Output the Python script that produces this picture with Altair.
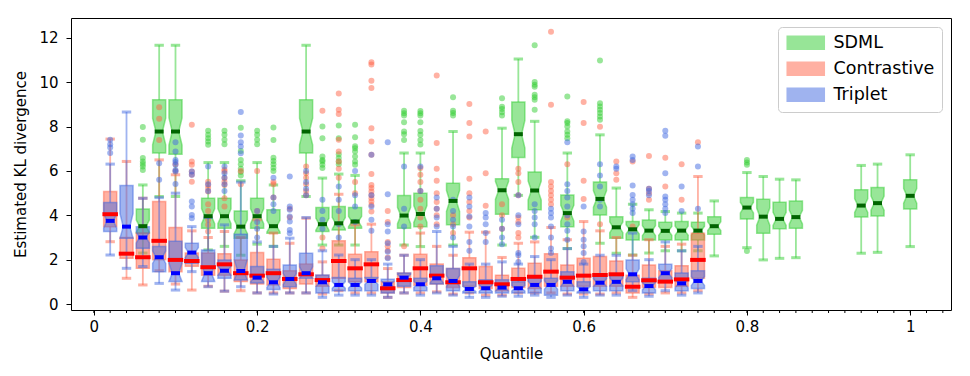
import altair as alt
import pandas as pd

# ---------------- data ----------------
STEP = 0.02  # quantile spacing of the box positions (position index k -> k*STEP)

series_names = ["SDML", "Contrastive", "Triplet"]
box_colors = ["#32CD32", "#FF6347", "#4169E1"]
median_colors = ["#006400", "#FF0000", "#0000FF"]

sdml_k = [3, 4, 5, 7, 8, 9, 10, 11, 13, 14, 15, 16, 19, 20, 22, 25, 26, 27, 29, 31,
          32, 33, 34, 35, 36, 37, 38, 40, 41, 42, 43, 47, 48, 50]
sdml_lo = [2.3, 4.85, 4.85, 2.44, 2.6, 2.2, 2.7, 2.6, 4.85, 2.66, 2.66, 2.66, 2.66, 2.59, 2.66, 2.66, 4.9, 3.01, 2.5, 2.74,
           2.29, 2.21, 2.3, 2.4, 2.4, 2.4, 2.17, 2.54, 1.99, 2.06, 2.09, 2.29, 2.33, 2.59]
sdml_q1 = [3.19, 6.81, 6.76, 3.42, 3.42, 2.97, 3.42, 3.19, 6.81, 3.27, 3.34, 3.42, 3.42, 3.49, 3.57, 4.05, 6.61, 4.25, 3.49, 4.02,
           2.97, 2.89, 2.89, 2.89, 2.89, 2.89, 3.15, 3.84, 3.19, 3.39, 3.42, 3.92, 3.97, 4.28]
sdml_med = [3.51, 7.78, 7.78, 3.96, 3.96, 3.49, 3.96, 3.51, 7.78, 3.6, 3.64, 3.72, 3.99, 4.06, 4.65, 5.13, 7.66, 5.12, 4.1, 4.74,
            3.46, 3.37, 3.31, 3.3, 3.31, 3.31, 3.51, 4.35, 3.94, 3.84, 3.92, 4.44, 4.55, 4.88]
sdml_q3 = [4.29, 9.21, 9.21, 4.77, 4.77, 4.2, 4.77, 4.25, 9.21, 4.35, 4.4, 4.35, 4.89, 5.0, 5.45, 5.65, 9.11, 5.95, 4.92, 5.5,
           3.94, 3.72, 3.79, 3.69, 3.72, 3.69, 3.94, 4.8, 4.73, 4.59, 4.65, 5.15, 5.25, 5.6]
sdml_hi = [5.37, 11.67, 11.67, 6.38, 6.38, 5.56, 6.38, 5.37, 11.67, 5.68, 5.86, 5.8, 6.81, 6.81, 7.78, 7.93, 11.05, 8.24, 6.81, 7.63,
           5.23, 4.5, 4.25, 4.17, 4.1, 4.1, 4.65, 5.93, 5.75, 5.63, 5.6, 6.25, 6.31, 6.73]
sdml_out = {3: [7.98, 7.41, 6.58, 6.43, 6.31, 6.2, 6.05], 7: [7.81, 7.63, 7.48, 7.33, 7.18],
            8: [7.81, 7.63, 7.41, 7.21], 9: [7.95, 6.9, 6.5, 6.3, 6.1, 5.95, 5.8],
            10: [7.81, 7.63, 7.41, 7.21], 11: [7.96, 7.4, 6.6, 6.45, 6.3, 6.15, 6.0],
            14: [8.01, 7.48, 6.65, 6.5, 6.43, 6.28, 6.13], 15: [8.05, 7.48, 6.76, 6.58, 6.43, 6.3],
            16: [8.08, 7.52, 7.11, 7.03, 6.88, 6.65, 6.43, 6.28], 19: [8.72, 8.6, 8.5, 8.2, 7.78, 7.66, 7.4],
            20: [8.7, 8.6, 8.5, 8.2, 7.8, 7.63, 7.4, 7.2], 22: [9.32, 8.72, 8.61, 8.5],
            25: [9.28, 8.9, 8.8, 8.65, 8.5], 27: [11.67, 10.01, 9.89, 9.8, 9.44, 9.32, 9.21, 8.76],
            29: [9.36, 8.24, 8.16, 8.01, 7.78, 7.63, 7.48], 31: [10.98, 9.06, 8.91, 8.76, 8.61, 8.46, 8.31],
            40: [6.5, 6.38, 6.28, 2.39]}

contr_k = list(range(1, 38))
contr_lo = [2.81, 1.16, 0.86, 1.5, 0.9, 0.63, 0.8, 0.58, 0.6, 0.5, 0.5, 0.5, 0.5, 0.45, 0.6, 0.5, 0.5, 0.3, 0.5, 0.5,
            0.55, 0.45, 0.5, 0.4, 0.4, 0.5, 0.5, 0.5, 0.45, 0.45, 0.45, 0.5, 0.3, 0.45, 0.5, 0.5, 0.6]
contr_q1 = [3.49, 2.06, 1.61, 2.0, 1.46, 1.7, 1.3, 1.3, 1.01, 0.9, 0.86, 0.7, 0.9, 0.8, 1.16, 1.0, 1.0, 0.5, 0.75, 0.85,
            0.9, 0.75, 0.8, 0.7, 0.6, 0.75, 0.7, 0.8, 0.8, 0.8, 0.8, 0.8, 0.5, 0.75, 0.75, 0.8, 1.16]
contr_med = [4.05, 2.27, 2.11, 2.85, 1.99, 1.94, 1.66, 1.79, 1.39, 1.28, 1.39, 1.13, 1.34, 1.08, 1.94, 1.61, 1.79, 0.71, 1.08, 1.61,
             1.28, 0.98, 1.61, 0.98, 0.89, 1.13, 1.23, 1.46, 1.19, 1.28, 1.31, 1.34, 0.78, 1.07, 1.01, 1.11, 1.99]
contr_q3 = [5.07, 3.0, 3.2, 4.62, 3.45, 2.3, 2.3, 2.27, 1.99, 2.32, 2.02, 1.5, 1.8, 1.3, 2.85, 2.24, 2.36, 1.0, 1.4, 2.24,
            1.8, 1.6, 2.09, 1.69, 1.3, 1.61, 1.84, 2.27, 1.76, 2.06, 2.14, 1.94, 1.3, 1.76, 1.5, 1.73, 3.19]
contr_hi = [7.44, 6.43, 4.77, 6.5, 5.83, 3.3, 3.0, 3.27, 3.0, 3.8, 3.2, 2.74, 3.87, 1.9, 4.95, 3.57, 3.6, 1.6, 2.2, 3.2,
            2.6, 2.2, 3.24, 3.24, 2.1, 2.74, 2.8, 3.45, 2.9, 3.72, 3.3, 3.0, 2.2, 2.9, 2.6, 2.7, 5.75]
contr_out = {4: [8.87, 8.36, 7.4], 5: [6.3, 6.0], 6: [8.08, 6.43, 6.28, 5.98, 5.83, 5.52],
             7: [5.52, 5.37, 5.23, 5.07, 4.5, 4.2, 3.8, 3.57, 3.27], 8: [6.06, 5.98, 5.68, 5.52, 5.37, 4.77, 4.4],
             9: [6.0, 5.4], 10: [6.0, 4.2], 11: [5.5, 5.4, 4.8], 12: [4.3, 3.9], 13: [6.2, 5.9, 5.7, 5.4, 5.1, 4.9],
             14: [8.72, 3.0, 2.5], 15: [9.49, 8.76, 8.57, 7.41, 6.88, 6.43, 6.1, 5.7], 16: [5.5, 5.0],
             17: [10.9, 10.8, 10.07, 9.74, 7.93, 7.33, 6.73, 5.86, 5.37, 5.23, 5.07, 4.92, 4.77, 4.62, 4.47, 4.17],
             18: [4.2, 3.7, 2.8, 2.6, 2.4, 2.1], 19: [2.6], 20: [6.13, 5.83, 5.5, 5.1, 4.7, 4.3, 3.9, 3.5],
             21: [10.31, 7.26, 6.1, 5.56, 5.0, 4.6, 4.3, 4.0, 3.6], 22: [4.0, 3.6, 3.2],
             23: [9.02, 8.16, 7.56, 5.65, 5.0, 4.6, 4.2, 3.9], 24: [7.78, 5.9, 4.43], 25: [4.5, 4.0, 3.4],
             26: [6.1, 5.9, 5.5, 4.9, 3.9, 3.7, 3.2, 3.0], 28: [12.28, 8.99, 5.5, 5.3, 5.1, 4.9, 4.7, 4.5],
             29: [6.3, 3.9], 30: [9.11, 8.16, 5.56, 4.74], 31: [8.0, 3.6], 32: [6.43, 5.9, 5.6], 33: [6.43, 3.5],
             34: [6.68, 5.2, 5.0, 4.7], 35: [6.6, 5.3], 36: [6.3, 4.7], 37: [7.3]}

trip_k = list(range(1, 38))
trip_lo = [2.21, 1.61, 1.69, 0.93, 0.63, 1.46, 0.78, 0.58, 0.78, 0.5, 0.45, 0.5, 0.5, 0.3, 0.4, 0.4, 0.4, 0.3, 0.5, 0.4,
           0.5, 0.4, 0.3, 0.3, 0.35, 0.35, 0.4, 0.3, 0.4, 0.3, 0.4, 0.4, 0.6, 0.35, 0.6, 0.4, 0.5]
trip_q1 = [3.27, 2.97, 2.52, 1.46, 1.01, 1.84, 1.01, 1.16, 1.08, 0.95, 0.65, 0.78, 1.16, 0.5, 0.6, 0.6, 0.6, 0.5, 0.8, 0.6,
           0.9, 0.6, 0.5, 0.5, 0.5, 0.5, 0.5, 0.4, 0.6, 0.5, 0.6, 0.6, 1.0, 0.5, 1.0, 0.6, 0.7]
trip_med = [3.75, 3.49, 3.0, 2.11, 1.39, 2.32, 1.39, 1.5, 1.49, 1.19, 0.98, 1.13, 1.39, 0.98, 0.86, 0.86, 1.04, 0.89, 1.19, 0.89,
            1.16, 1.04, 0.68, 0.71, 0.74, 0.71, 0.86, 0.86, 1.0, 0.66, 0.96, 1.0, 1.34, 0.81, 1.39, 0.93, 1.04]
trip_q3 = [4.58, 5.34, 3.49, 2.59, 2.83, 2.74, 2.44, 1.99, 3.15, 1.69, 1.57, 1.76, 2.29, 1.31, 1.2, 1.16, 1.2, 1.12, 1.4, 1.16,
           1.73, 1.6, 1.0, 1.1, 1.1, 1.0, 1.16, 1.16, 1.45, 1.0, 1.3, 1.3, 1.99, 1.16, 1.79, 1.4, 1.5]
trip_hi = [6.31, 8.66, 4.77, 4.8, 5.0, 3.49, 3.9, 3.57, 5.5, 2.8, 2.6, 2.97, 3.9, 2.4, 2.21, 2.0, 2.0, 1.8, 2.2, 2.0,
           3.27, 2.6, 1.8, 1.8, 1.9, 1.8, 2.14, 2.0, 2.5, 1.8, 2.2, 2.2, 3.2, 2.0, 2.8, 2.4, 2.6]
trip_out = {1: [7.41, 7.21, 7.06, 6.81], 4: [6.35, 5.6], 5: [7.3, 6.88, 6.5, 6.4, 6.28, 6.05, 5.98, 5.41],
            6: [5.98, 5.83, 4.62, 4.4, 4.02, 3.87], 7: [6.2, 5.4, 5.1], 8: [6.2, 5.9, 5.7, 5.4, 5.1],
            9: [8.66, 7.6, 7.3, 7.1, 6.8], 10: [4.2, 3.7, 3.4, 3.0], 11: [5.7, 4.8, 4.5, 4.2],
            12: [5.75, 4.4, 4.25, 3.95, 3.72, 3.34, 3.19], 13: [6.0, 5.5, 5.2, 4.9], 14: [4.7, 4.2, 3.8, 3.4],
            15: [5.3, 4.7, 4.2, 3.6, 3.0], 16: [6.0, 4.9, 4.4, 3.7], 17: [6.73, 4.9, 4.4, 3.8, 3.3],
            18: [7.3, 4.95, 3.6, 3.27, 2.74, 2.36, 2.06], 19: [6.2, 4.3, 3.5], 20: [6.2, 5.1],
            21: [4.8, 4.3, 3.9, 3.5], 22: [4.7, 4.2, 3.8, 3.5, 3.0], 23: [4.8, 4.4, 3.95, 3.5, 2.8, 2.4],
            24: [4.1, 3.9, 3.6, 3.2, 2.8], 25: [3.8, 3.4, 3.0, 2.7], 26: [4.9, 4.0, 3.6, 2.3, 2.2, 1.9],
            27: [4.5, 4.2, 3.9, 3.6, 3.0], 28: [4.3, 4.1, 3.9, 3.5, 3.0, 2.5, 2.3],
            29: [7.3, 5.4, 5.1, 4.8, 4.4, 4.0, 3.6, 3.3, 2.9], 30: [4.4, 3.27, 2.9, 2.6, 2.3, 1.9],
            31: [6.3, 5.8, 5.3, 4.7, 4.4], 32: [6.2, 6.1], 33: [6.65, 6.5, 5.34, 4.92, 4.7, 4.5, 4.3, 4.1],
            34: [5.2, 5.1, 4.9], 35: [7.81, 7.59, 5.9, 4.85, 4.7, 4.5, 4.3, 4.1], 36: [5.3, 4.2], 37: [7.1, 6.2, 4.3]}

x_ticks = [0, 0.2, 0.4, 0.6, 0.8, 1]
y_ticks = [0, 2, 4, 6, 8, 10, 12]
minor_ticks = [round(STEP * i, 2) for i in range(0, 53)]

# ---------------- geometry / style constants ----------------
BOX_W = 0.016       # box width in data units
CAP_W = 0.0115      # whisker cap width
NOTCH_FRAC = 0.25   # notch half-height as fraction of IQR
MED_HALF_PLAIN = 0.0095
MED_HALF_NOTCH = 0.0055

FONT = "DejaVu Sans"

x_scale = alt.Scale(domain=[-0.028, 1.05], nice=False, zero=False)
y_scale = alt.Scale(domain=[-0.27, 12.9], nice=False, zero=False)
x_axis = alt.Axis(values=x_ticks, format="~g", title="Quantile", grid=False, domain=False,
                  tickSize=5, labelPadding=4, titlePadding=12)
y_axis = alt.Axis(values=y_ticks, title="Estimated KL divergence", grid=False, domain=False,
                  tickSize=5, labelPadding=8, titlePadding=10)


def X(field):
    return alt.X(field, type="quantitative", scale=x_scale, axis=x_axis)


def Y(field):
    return alt.Y(field, type="quantitative", scale=y_scale, axis=y_axis)


specs = [
    ("SDML", sdml_k, sdml_lo, sdml_q1, sdml_med, sdml_q3, sdml_hi, sdml_out, True),
    ("Contrastive", contr_k, contr_lo, contr_q1, contr_med, contr_q3, contr_hi, contr_out, False),
    ("Triplet", trip_k, trip_lo, trip_q1, trip_med, trip_q3, trip_hi, trip_out, True),
]

legend = alt.Legend(
    title=None, orient="top-right", offset=9, fillColor="white", strokeColor="#cccccc",
    cornerRadius=4, padding=7, symbolType="M-2.85,-1H2.85V1H-2.85Z", symbolSize=169,
    symbolOffset=12, labelOffset=19, symbolOpacity=0.5, symbolStrokeWidth=1.5,
    labelFontSize=17.5, labelFont=FONT, labelColor="black", rowPadding=6, labelLimit=300,
)
fill_enc = alt.Fill("series:N", scale=alt.Scale(domain=series_names, range=box_colors), legend=legend)
stroke_enc = alt.Stroke("series:N", scale=alt.Scale(domain=series_names, range=box_colors), legend=legend)

layers = []
med_rows = []
for si, (name, ks, lo, q1, md, q3, hi, outs, notched) in enumerate(specs):
    col = box_colors[si]
    poly, rect, whisk, caps, pts = [], [], [], [], []
    for i, k in enumerate(ks):
        x = round(k * STEP, 4)
        if notched:
            iqr = q3[i] - q1[i]
            cilo = max(q1[i], md[i] - NOTCH_FRAC * iqr)
            cihi = min(q3[i], md[i] + NOTCH_FRAC * iqr)
            hw, nw = BOX_W / 2, BOX_W / 4
            # lower half of the notched box (q1 up to the notch outline)
            for px, ya, yb in [(x - hw, q1[i], cilo), (x - nw, q1[i], md[i]),
                               (x + nw, q1[i], md[i]), (x + hw, q1[i], cilo)]:
                poly.append({"id": f"{name}-{k}-lo", "px": px, "ya": ya, "yb": yb, "series": name})
            # upper half (notch outline up to q3)
            for px, ya, yb in [(x - hw, cihi, q3[i]), (x - nw, md[i], q3[i]),
                               (x + nw, md[i], q3[i]), (x + hw, cihi, q3[i])]:
                poly.append({"id": f"{name}-{k}-hi", "px": px, "ya": ya, "yb": yb, "series": name})
            mh = MED_HALF_NOTCH
        else:
            rect.append({"left": x - BOX_W / 2, "right": x + BOX_W / 2, "q1": q1[i], "q3": q3[i], "series": name})
            mh = MED_HALF_PLAIN
        whisk.append({"x": x, "a": lo[i], "b": q1[i], "c": col})
        whisk.append({"x": x, "a": q3[i], "b": hi[i], "c": col})
        caps.append({"l": x - CAP_W / 2, "r": x + CAP_W / 2, "y": lo[i], "c": col})
        caps.append({"l": x - CAP_W / 2, "r": x + CAP_W / 2, "y": hi[i], "c": col})
        med_rows.append({"l": x - mh, "r": x + mh, "y": md[i], "c": median_colors[si]})
        for v in outs.get(k, []):
            pts.append({"x": x, "y": v, "c": col})

    if notched:
        layers.append(
            alt.Chart(pd.DataFrame(poly)).mark_area(fillOpacity=0.5, strokeOpacity=0.5, strokeWidth=1.5)
            .encode(x=X("px"), y=Y("ya"), y2="yb", detail="id:N", fill=fill_enc, stroke=stroke_enc)
        )
    else:
        layers.append(
            alt.Chart(pd.DataFrame(rect)).mark_rect(fillOpacity=0.5, strokeOpacity=0.5, strokeWidth=1.5)
            .encode(x=X("left"), x2="right", y=Y("q1"), y2="q3", fill=fill_enc, stroke=stroke_enc)
        )
    layers.append(
        alt.Chart(pd.DataFrame(whisk)).mark_rule(strokeWidth=1.8, opacity=0.5)
        .encode(x=X("x"), y=Y("a"), y2="b", color=alt.Color("c:N", scale=None))
    )
    layers.append(
        alt.Chart(pd.DataFrame(caps)).mark_rule(strokeWidth=3, opacity=0.5)
        .encode(x=X("l"), x2="r", y=Y("y"), color=alt.Color("c:N", scale=None))
    )
    layers.append(
        alt.Chart(pd.DataFrame(pts)).mark_circle(size=36, opacity=0.5)
        .encode(x=X("x"), y=Y("y"), color=alt.Color("c:N", scale=None))
    )

layers.append(
    alt.Chart(pd.DataFrame(med_rows)).mark_rule(strokeWidth=4)
    .encode(x=X("l"), x2="r", y=Y("y"), color=alt.Color("c:N", scale=None))
)

# minor x ticks below the frame
layers.append(
    alt.Chart(pd.DataFrame({"t": minor_ticks})).mark_rule(color="black", strokeWidth=1)
    .encode(x=X("t"), y=alt.value(292), y2=alt.value(295))
)

chart = (
    alt.layer(*layers)
    .properties(width=880, height=292, autosize=alt.AutoSizeParams(type="none"),
                padding={"left": 63, "top": 10, "right": 11, "bottom": 58})
    .configure_axis(labelFont=FONT, titleFont=FONT, labelFontSize=15, titleFontSize=15,
                    labelColor="black", titleColor="black", titleFontWeight="normal",
                    tickColor="black", tickWidth=1)
    .configure_view(stroke="black", strokeWidth=1)
)

chart.save("out.html", embed_options={"renderer": "svg", "actions": False})
